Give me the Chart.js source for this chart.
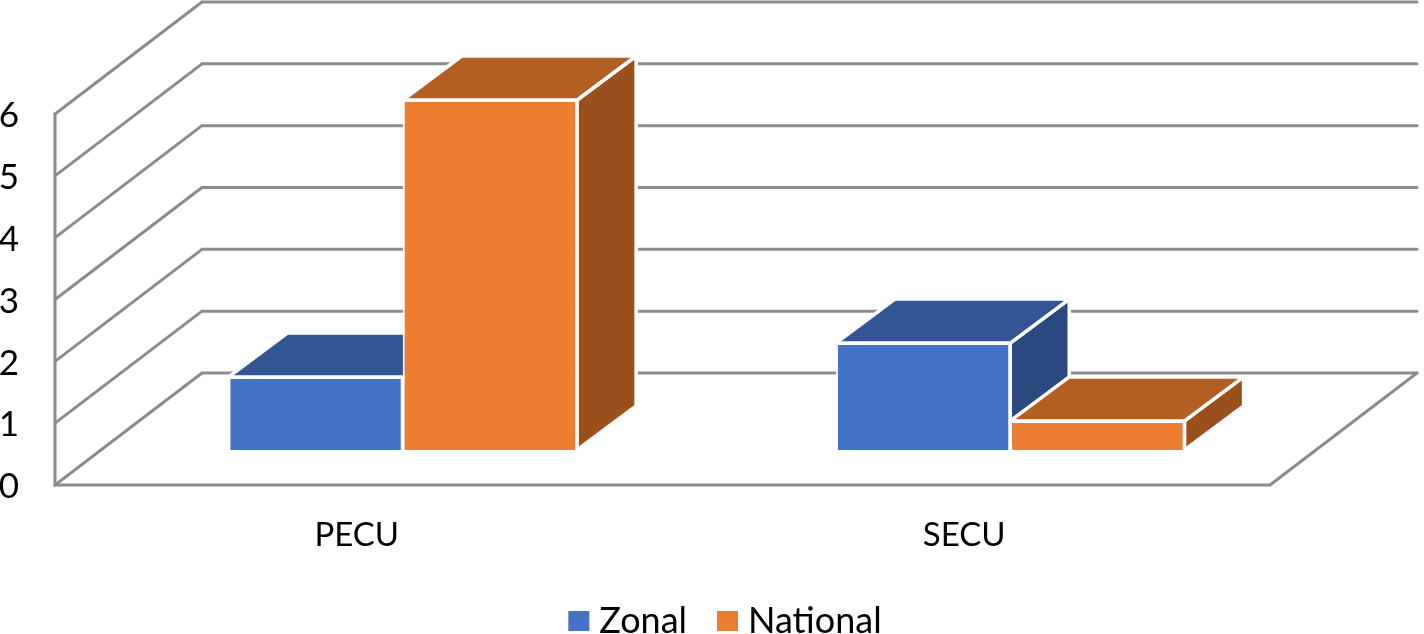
<!DOCTYPE html>
<html>
<head>
<meta charset="utf-8">
<title>Zonal and National</title>
<script src="https://cdn.jsdelivr.net/npm/chart.js@4"></script>
<style>
  html, body { margin: 0; padding: 0; background: #fff; overflow: hidden; }
  canvas { display: block; }
</style>
</head>
<body>
<canvas id="bar-chart" width="1424" height="634"></canvas>
<script>
// data
const categories = ["PECU", "SECU"];
const zonal_values = [1.18, 1.73];
const national_values = [5.66, 0.47];
const y_ticks = [0, 1, 2, 3, 4, 5, 6];

// 3d look: how far the back wall sits from the front edge, where the bars stand, how deep a bar is
const wall = { dx: 147, dy: 112 };
const bar_shift = { dx: 44, dy: 35 };
const bar_depth = { dx: 59, dy: 44 };
const grid_color = "#8c8c8c";

const faces = [
  { top: "#335593", side: "#2a4a7f" },
  { top: "#b35f24", side: "#9a501c" }
];

function line(ctx, x1, y1, x2, y2, width) {
  ctx.beginPath();
  ctx.moveTo(x1, y1);
  ctx.lineTo(x2, y2);
  ctx.lineWidth = width;
  ctx.strokeStyle = grid_color;
  ctx.stroke();
}

function face(ctx, points, color) {
  ctx.beginPath();
  points.forEach((p, i) => i ? ctx.lineTo(p[0], p[1]) : ctx.moveTo(p[0], p[1]));
  ctx.closePath();
  ctx.fillStyle = color;
  ctx.fill();
  ctx.lineWidth = 3.5;
  ctx.strokeStyle = "#fff";
  ctx.stroke();
}

// walls, floor and the faces of the bars go under the front faces that chart.js draws
const box3d = {
  id: "box3d",
  afterLayout(chart) {
    // legend sits off the middle of the plot in the original
    chart.legend.left += 94;
    chart.legend.right += 94;
  },
  beforeDatasetsDraw(chart) {
    const ctx = chart.ctx;
    const y = chart.scales.y;
    const area = chart.chartArea;
    ctx.save();
    ctx.lineCap = "round";
    y_ticks.forEach(t => {
      const py = y.getPixelForValue(t);
      line(ctx, area.left, py, area.left + wall.dx, py - wall.dy, 3);
      line(ctx, area.left + wall.dx, py - wall.dy, area.right + wall.dx, py - wall.dy, 3);
    });
    line(ctx, area.left, y.getPixelForValue(0), area.left, y.getPixelForValue(6), 3);
    line(ctx, area.left, y.getPixelForValue(0), area.right, y.getPixelForValue(0), 3);
    line(ctx, area.right, y.getPixelForValue(0), area.right + wall.dx, y.getPixelForValue(0) - wall.dy, 3);

    ctx.translate(bar_shift.dx, -bar_shift.dy);
    ctx.lineJoin = "round";
    chart.data.datasets.forEach((ds, d) => {
      chart.getDatasetMeta(d).data.forEach(bar => {
        const l = bar.x - bar.width / 2;
        const r = bar.x + bar.width / 2;
        face(ctx, [[r, bar.y], [r + bar_depth.dx, bar.y - bar_depth.dy],
          [r + bar_depth.dx, bar.base - bar_depth.dy], [r, bar.base]], faces[d].side);
        face(ctx, [[l, bar.y], [r, bar.y], [r + bar_depth.dx, bar.y - bar_depth.dy],
          [l + bar_depth.dx, bar.y - bar_depth.dy]], faces[d].top);
      });
    });
    ctx.restore();

    // front faces follow the same shift
    ctx.save();
    ctx.translate(bar_shift.dx, -bar_shift.dy);
  },
  afterDatasetsDraw(chart) {
    chart.ctx.restore();
  }
};

new Chart(document.getElementById("bar-chart"), {
  type: "bar",
  plugins: [box3d],
  data: {
    labels: categories,
    datasets: [
      { label: "Zonal", data: zonal_values, backgroundColor: "#4472c4", borderColor: "#fff", borderWidth: 2 },
      { label: "National", data: national_values, backgroundColor: "#ed7d31", borderColor: "#fff", borderWidth: 2 }
    ]
  },
  options: {
    responsive: false,
    animation: false,
    categoryPercentage: 0.574,
    barPercentage: 1,
    layout: { padding: { top: 114, right: 154, left: 0, bottom: -15 } },
    scales: {
      x: {
        grid: { display: false },
        border: { display: false },
        ticks: { color: "#000", font: { family: "Lato", size: 33 }, padding: 23, labelOffset: -2, maxRotation: 0 },
        afterFit(scale) { scale.height = 80; }
      },
      y: {
        min: 0,
        max: 6,
        grid: { display: false, drawTicks: false },
        border: { display: false },
        ticks: { color: "#000", font: { family: "Lato", size: 35 }, padding: 36, labelOffset: 2, stepSize: 1 },
        afterFit(scale) { scale.width = 55; }
      }
    },
    plugins: {
      tooltip: { enabled: false },
      legend: {
        position: "bottom",
        labels: {
          font: { family: "Lato", size: 36 },
          color: "#000",
          boxWidth: 5,
          boxHeight: 4,
          padding: 38,
          // a small box with a thick stroke keeps the text close to the swatch
          generateLabels(chart) {
            return chart.data.datasets.map((ds, i) => ({
              text: ds.label,
              fillStyle: ds.backgroundColor,
              strokeStyle: ds.backgroundColor,
              lineWidth: 16,
              datasetIndex: i
            }));
          }
        }
      }
    }
  }
});
</script>
</body>
</html>
